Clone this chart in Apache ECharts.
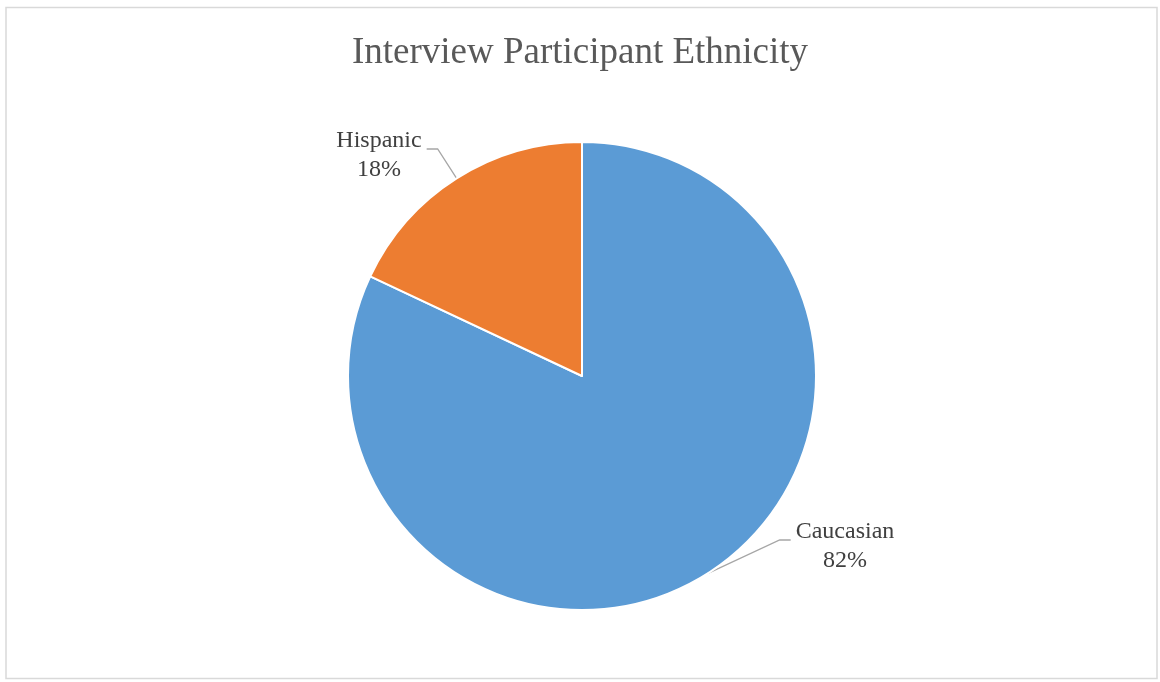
<!DOCTYPE html>
<html>
<head>
<meta charset="utf-8">
<title>Interview Participant Ethnicity</title>
<script src="https://cdn.jsdelivr.net/npm/echarts@6/dist/echarts.min.js"></script>
<style>
  html, body { margin: 0; padding: 0; background: #ffffff; }
  #chart { width: 1160px; height: 682px; }
</style>
</head>
<body>
<div id="chart"></div>
<script>
// Share of interview participants by ethnicity (percent)
const categories = ['Caucasian', 'Hispanic'];
const shares = [82, 18];
const sliceColors = ['#5B9BD5', '#ED7D31'];

// Where each two-line label is centred, in pixels
const labelSpots = {
  Caucasian: [845, 546.5],
  Hispanic: [379, 155.5]
};

const chart = echarts.init(document.getElementById('chart'), null, { renderer: 'canvas' });

const pieData = categories.map(function (name, i) {
  return { name: name, value: shares[i], itemStyle: { color: sliceColors[i] } };
});

chart.setOption({
  animation: false,
  backgroundColor: '#ffffff',
  title: {
    text: 'Interview Participant Ethnicity',
    left: 'center',
    top: 30,
    textStyle: {
      fontFamily: 'Liberation Serif',
      fontSize: 37,
      fontWeight: 'normal',
      color: '#595959'
    }
  },
  graphic: [{
    type: 'rect',
    silent: true,
    shape: { x: 6, y: 7.5, width: 1151, height: 671 },
    style: { fill: 'none', stroke: '#d9d9d9', lineWidth: 1.5 }
  }],
  series: [{
    type: 'pie',
    center: [582, 376],
    radius: 234,
    startAngle: 90,
    clockwise: true,
    data: pieData,
    itemStyle: { borderColor: '#ffffff', borderWidth: 2 },
    emphasis: { disabled: true },
    label: {
      show: true,
      position: 'outside',
      formatter: '{b}\n{c}%',
      fontFamily: 'Liberation Serif',
      fontSize: 24,
      lineHeight: 29,
      color: '#404040',
      align: 'center'
    },
    labelLine: {
      show: true,
      length: 30,
      length2: 10,
      lineStyle: { color: '#a6a6a6', width: 1.3 }
    },
    // Labels sit beside the pie; each leader runs from the slice's outer
    // mid-point to a short horizontal tick next to the text.
    labelLayout: function (p) {
      const spot = labelSpots[categories[p.dataIndex]];
      const anchor = p.labelLinePoints[0];
      const half = p.labelRect.width / 2;
      const toRight = spot[0] > anchor[0];
      const endX = toRight ? spot[0] - half - 5 : spot[0] + half + 5;
      const lineY = spot[1] - 6.5;
      const elbowX = toRight ? endX - 11 : endX + 11;
      return {
        x: spot[0],
        y: spot[1],
        align: 'center',
        verticalAlign: 'middle',
        labelLinePoints: [anchor, [elbowX, lineY], [endX, lineY]]
      };
    }
  }]
});
</script>
</body>
</html>
